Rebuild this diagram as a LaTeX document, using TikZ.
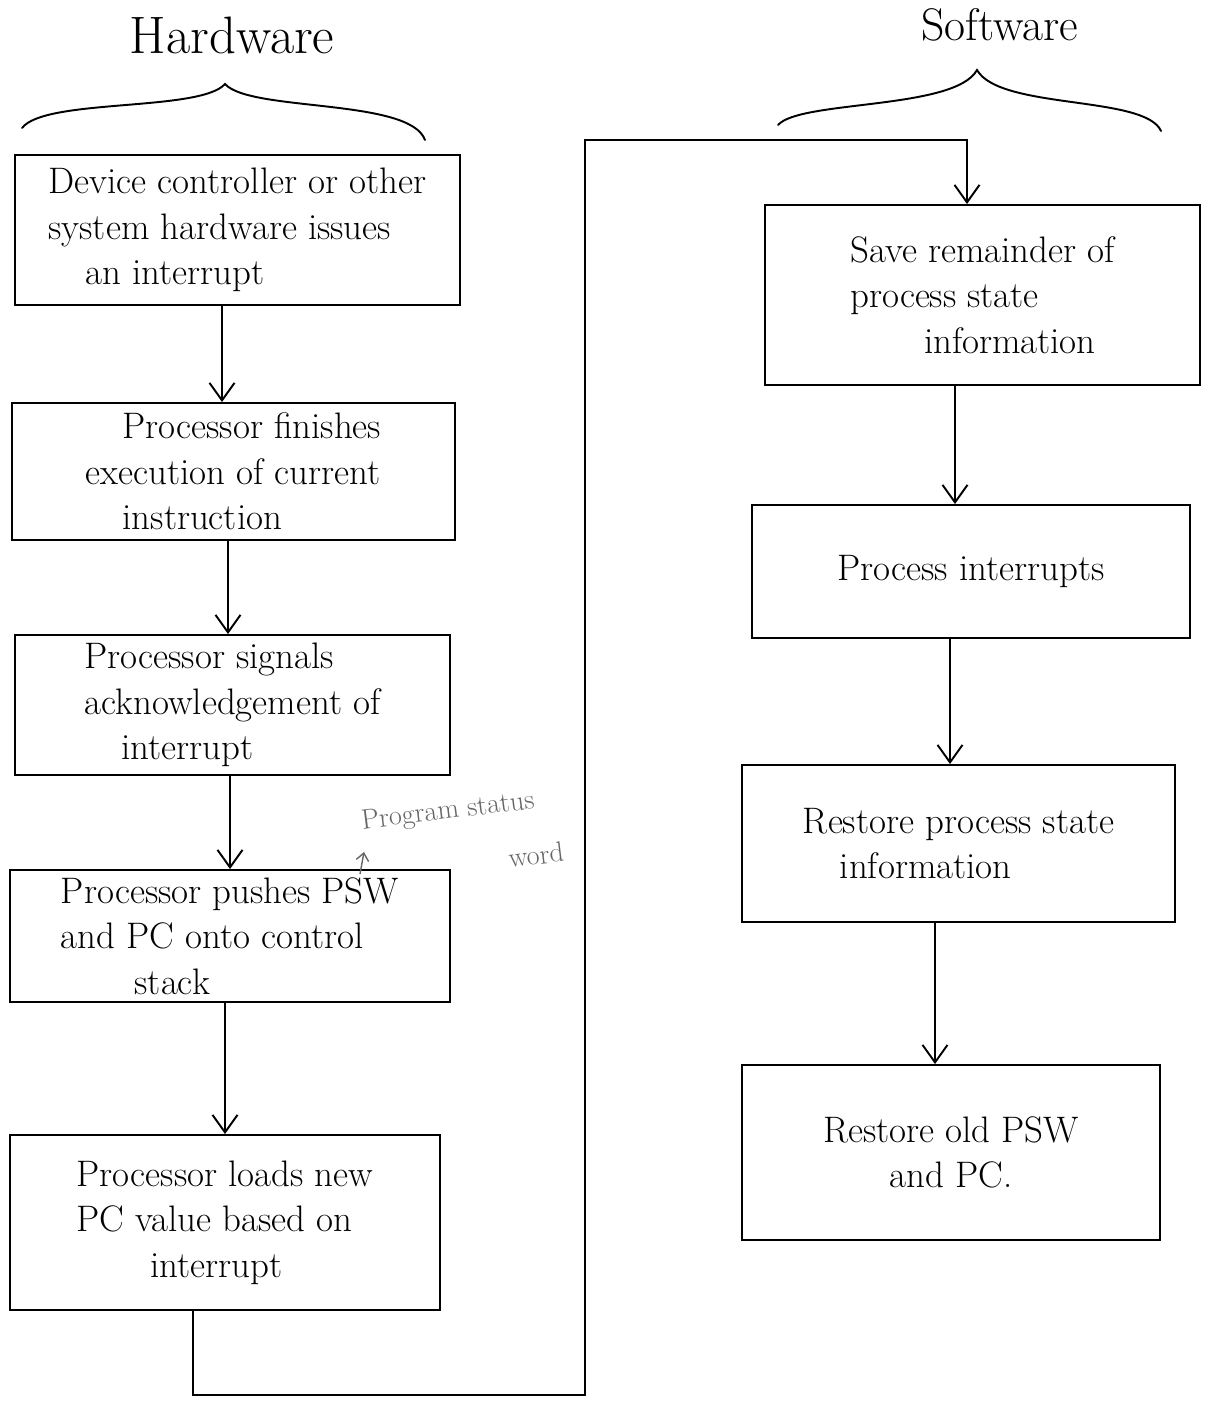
\documentclass[tikz,border=0pt]{standalone}
\usetikzlibrary{arrows.meta}
\begin{document}
\begin{tikzpicture}[x=0.02cm,y=-0.02cm,
  box/.style={draw, line width=1.1pt, align=left, font=\fontsize{21}{26}\selectfont, inner sep=0pt},
  arr/.style={line width=1.1pt, -{Straight Barb[length=3.5mm,width=5mm,line width=1.1pt]}},
  brace/.style={line width=1.1pt, line cap=round},
  note/.style={font=\fontsize{16}{18}\selectfont, text=black!60, inner sep=1pt}]
\useasboundingbox (0,0) rectangle (1215,1416);

% headers
\node[font=\fontsize{30}{34}\selectfont] (hw) at (232,35) {Hardware};
\node[font=\fontsize{26}{30}\selectfont] (sw) at (1000,25) {Software};
\draw[brace] (22,128) .. controls (45,98) and (200,112) .. (225,84)
             .. controls (250,112) and (410,98) .. (425,140);
\draw[brace] (778,125) .. controls (800,100) and (955,110) .. (977,70)
             .. controls (1000,110) and (1145,95) .. (1161,131);

% left column
\node[box, minimum width=8.9cm, minimum height=3.0cm] (B1) at (237.5,230)
  {Device controller or other\\ system hardware issues\\ \quad an interrupt};
\node[box, minimum width=8.86cm, minimum height=2.74cm] (B2) at (233.5,471.5)
  {\quad Processor finishes\\ execution of current\\ \quad instruction};
\node[box, minimum width=8.7cm, minimum height=2.8cm] (B3) at (232.5,705)
  {Processor signals\\ acknowledgement of\\ \quad interrupt};
\node[box, minimum width=8.8cm, minimum height=2.64cm] (B4) at (230,936)
  {Processor pushes PSW\\ and PC onto control\\ \qquad stack};
\node[box, minimum width=8.6cm, minimum height=3.5cm] (B5) at (225,1222.5)
  {Processor loads new\\ PC value based on\\ \qquad interrupt};

% right column
\node[box, minimum width=8.7cm, minimum height=3.6cm] (R1) at (982.5,295)
  {Save remainder of\\ process state\\ \qquad information};
\node[box, minimum width=8.76cm, minimum height=2.66cm] (R2) at (971,571.5)
  {Process interrupts};
\node[box, minimum width=8.66cm, minimum height=3.14cm] (R3) at (958.5,843.5)
  {Restore process state\\ \quad information};
\node[box, minimum width=8.36cm, minimum height=3.5cm, align=center] (R4) at (951,1152.5)
  {Restore old PSW\\ and PC.};

% annotation
\node[note, rotate=7] (psw1) at (448,812) {Program status};
\node[note, rotate=7] (psw2) at (536,855) {word};
\coordinate (p1) at (360,874);
\coordinate (p2) at (364,852);
\draw[line width=0.8pt, black!60, -{Straight Barb[length=1.5mm,width=2.5mm]}] (p1) -- (p2);

% arrow columns
\coordinate (a1) at (222,0);
\coordinate (a2) at (228,0);
\coordinate (a3) at (230,0);
\coordinate (a4) at (225,0);
\coordinate (r1) at (955,0);
\coordinate (r2) at (950,0);
\coordinate (r3) at (935,0);
\draw[arr] (B1.south -| a1) -- (B2.north -| a1);
\draw[arr] (B2.south -| a2) -- (B3.north -| a2);
\draw[arr] (B3.south -| a3) -- (B4.north -| a3);
\draw[arr] (B4.south -| a4) -- (B5.north -| a4);
\draw[arr] (R1.south -| r1) -- (R2.north -| r1);
\draw[arr] (R2.south -| r2) -- (R3.north -| r2);
\draw[arr] (R3.south -| r3) -- (R4.north -| r3);

% loop from hardware to software
\coordinate (k1) at (193,1395);
\coordinate (k2) at (585,140);
\coordinate (k3) at (967,140);
\draw[arr] (B5.south -| k1) -- (k1) -| (k2) -- (k3) -- (R1.north -| k3);
\end{tikzpicture}
\end{document}
